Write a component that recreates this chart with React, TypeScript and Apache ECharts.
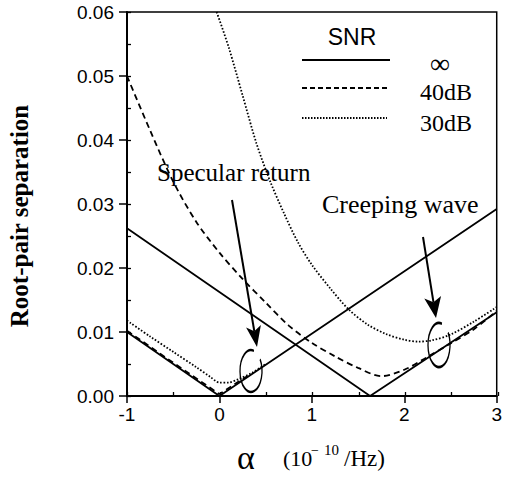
import React, { useEffect, useRef } from "react";
import * as echarts from "echarts";

// ---- data (alpha in 1e-10/Hz, root-pair separation) ----
const xMin = -1;
const xMax = 3;
const yMin = 0;
const yMax = 0.06;

const specInfAlpha = [-1, 0, 3];
const specInfSep = [0.01, 0.0, 0.0292];

const creepInfAlpha = [-1, 1.63, 3];
const creepInfSep = [0.0262, 0.0, 0.0131];

const spec40Alpha = [-1, -0.5, 0, 0.3];
const spec40Sep = [0.0102, 0.0052, 0.0003, 0.0031];

const spec30Alpha = [-1, -0.75, -0.5, -0.25, -0.1, 0, 0.1, 0.2, 0.35, 0.5];
const spec30Sep = [0.0118, 0.0093, 0.0069, 0.0045, 0.003, 0.0021, 0.0021, 0.0026, 0.0036, 0.005];

const creep40Alpha = [-1, -0.75, -0.5, -0.25, 0, 0.25, 0.5, 0.75, 1.0, 1.25, 1.5, 1.75, 2.0, 2.25, 2.5, 2.75, 3.0];
const creep40Sep = [0.05, 0.0415, 0.0335, 0.0272, 0.0224, 0.0183, 0.0146, 0.011, 0.0083, 0.0062, 0.0044, 0.0031, 0.0041, 0.0061, 0.0082, 0.0104, 0.0133];

const creep30Alpha = [-0.03, 0.1, 0.25, 0.4, 0.55, 0.7, 0.85, 1.0, 1.2, 1.4, 1.6, 1.8, 2.0, 2.15, 2.3, 2.5, 2.75, 3.0];
const creep30Sep = [0.06, 0.0545, 0.047, 0.0395, 0.0335, 0.0285, 0.024, 0.0205, 0.0168, 0.0135, 0.0112, 0.0097, 0.0088, 0.0085, 0.0087, 0.0096, 0.0116, 0.0139];

const snrNames = ["∞", "40dB", "30dB"];
const yAxisTitle = "Root-pair separation";
const annotationSpecular = "Specular return";
const annotationCreeping = "Creeping wave";

const SERIF = "'Liberation Serif', 'Times New Roman', serif";
const SANS = "'Liberation Sans', Arial, sans-serif";

function pairs(xs: number[], ys: number[]) {
  return xs.map((x, i) => [x, ys[i]]);
}

const solid = { color: "#000", width: 1.8, type: "solid" as const };
const dashed = { color: "#000", width: 1.8, type: [6, 4] };
const dotted = { color: "#000", width: 1.8, type: [1.6, 1.8] };

function lineSeries(name: string, xs: number[], ys: number[], style: any, smooth: number) {
  return {
    type: "line",
    name,
    xAxisIndex: 0,
    yAxisIndex: 0,
    data: pairs(xs, ys),
    showSymbol: false,
    symbol: "none",
    smooth,
    lineStyle: style,
    silent: true,
  };
}

function arrow(x1: number, y1: number, x2: number, y2: number, len: number, half: number) {
  const dx = x2 - x1;
  const dy = y2 - y1;
  const d = Math.sqrt(dx * dx + dy * dy);
  const ux = dx / d;
  const uy = dy / d;
  const bx = x2 - ux * len;
  const by = y2 - uy * len;
  const nx = bx + ux * 5;
  const ny = by + uy * 5;
  return [
    { type: "line", shape: { x1, y1, x2: nx, y2: ny }, style: { stroke: "#000", lineWidth: 2 } },
    {
      type: "polygon",
      shape: {
        points: [
          [x2, y2],
          [bx - uy * half, by + ux * half],
          [nx, ny],
          [bx + uy * half, by - ux * half],
        ],
      },
      style: { fill: "#000" },
    },
  ];
}

function loop(cx: number, cy: number, r: number, sy: number) {
  return {
    type: "arc",
    x: cx,
    y: cy,
    scaleY: sy,
    shape: { cx: 0, cy: 0, r, startAngle: -0.6, endAngle: 2 * Math.PI - 1.3, clockwise: true },
    style: { stroke: "#000", fill: "none", lineWidth: 1.3 },
  };
}

export default function App() {
  const ref = useRef<HTMLDivElement>(null);

  useEffect(() => {
    if (!ref.current) return;
    const chart = echarts.init(ref.current, undefined, { renderer: "svg" });
    const gridBox = { left: 127, right: 7, top: 12, bottom: 83 };
    const option: any = {
      animation: false,
      backgroundColor: "#fff",
      grid: [
        { ...gridBox, show: true, borderColor: "#000", borderWidth: 1.5, backgroundColor: "transparent" },
        { ...gridBox, show: false },
      ],
      xAxis: [
        {
          type: "value",
          gridIndex: 0,
          min: xMin,
          max: xMax,
          interval: 1,
          axisLine: { show: true, onZero: false, lineStyle: { color: "#000", width: 2 } },
          axisTick: { show: true, length: 7, lineStyle: { color: "#000", width: 1.5 } },
          axisLabel: { color: "#000", fontSize: 19, fontFamily: SANS, margin: 9 },
          splitLine: { show: false },
        },
        {
          type: "value",
          gridIndex: 1,
          min: xMin,
          max: xMax,
          interval: 0.5,
          position: "bottom",
          axisLine: { show: false, onZero: false },
          axisTick: { show: true, inside: true, length: 4, lineStyle: { color: "#000", width: 1.3 } },
          axisLabel: { show: false },
          splitLine: { show: false },
        },
      ],
      yAxis: [
        {
          type: "value",
          gridIndex: 0,
          min: yMin,
          max: yMax,
          interval: 0.01,
          axisLine: { show: true, onZero: false, lineStyle: { color: "#000", width: 2 } },
          axisTick: { show: true, length: 8, lineStyle: { color: "#000", width: 1.5 } },
          axisLabel: {
            color: "#000",
            fontSize: 19,
            fontFamily: SANS,
            margin: 13,
            formatter: (v: number) => v.toFixed(2),
          },
          splitLine: { show: false },
        },
        {
          type: "value",
          gridIndex: 1,
          min: yMin,
          max: yMax,
          interval: 0.005,
          position: "left",
          axisLine: { show: false, onZero: false },
          axisTick: { show: true, inside: true, length: 4, lineStyle: { color: "#000", width: 1.3 } },
          axisLabel: { show: false },
          splitLine: { show: false },
        },
      ],
      series: [
        lineSeries(snrNames[0], specInfAlpha, specInfSep, solid, 0),
        lineSeries(snrNames[0], creepInfAlpha, creepInfSep, solid, 0),
        lineSeries(snrNames[1], spec40Alpha, spec40Sep, dashed, 0),
        lineSeries(snrNames[1], creep40Alpha, creep40Sep, dashed, 0.3),
        lineSeries(snrNames[2], spec30Alpha, spec30Sep, dotted, 0.3),
        lineSeries(snrNames[2], creep30Alpha, creep30Sep, dotted, 0.3),
      ],
      graphic: [
        // y-axis title
        {
          type: "text",
          x: 19,
          y: 216,
          rotation: Math.PI / 2,
          style: {
            text: yAxisTitle,
            font: `bold 25px ${SERIF}`,
            fill: "#000",
            align: "center",
            verticalAlign: "middle",
          },
        },
        // x-axis title
        { type: "text", x: 237, y: 457, style: { text: "α", font: `34px ${SERIF}`, fill: "#000", align: "left", verticalAlign: "middle" } },
        { type: "text", x: 283, y: 458, style: { text: "(10", font: `22px ${SERIF}`, fill: "#000", align: "left", verticalAlign: "middle" } },
        { type: "text", x: 311, y: 450, style: { text: "−", font: `14px ${SERIF}`, fill: "#000", align: "left", verticalAlign: "middle" } },
        { type: "text", x: 324, y: 450, style: { text: "10", font: `15px ${SERIF}`, fill: "#000", align: "left", verticalAlign: "middle" } },
        { type: "text", x: 344, y: 458, style: { text: "/Hz)", font: `23px ${SERIF}`, fill: "#000", align: "left", verticalAlign: "middle" } },
        // legend
        { type: "text", x: 352, y: 37, style: { text: "SNR", font: `23px ${SANS}`, fill: "#000", align: "center", verticalAlign: "middle" } },
        { type: "line", shape: { x1: 302, y1: 60, x2: 390, y2: 60 }, style: { stroke: "#000", lineWidth: 2 } },
        { type: "line", shape: { x1: 302, y1: 88, x2: 390, y2: 88 }, style: { stroke: "#000", lineWidth: 2, lineDash: [5, 3] } },
        { type: "line", shape: { x1: 302, y1: 118, x2: 387, y2: 118 }, style: { stroke: "#000", lineWidth: 1.8, lineDash: [1.5, 1.5] } },
        { type: "text", x: 440, y: 63, style: { text: snrNames[0], font: `28px ${SERIF}`, fill: "#000", align: "center", verticalAlign: "middle" } },
        { type: "text", x: 420, y: 92, style: { text: snrNames[1], font: `24px ${SERIF}`, fill: "#000", align: "left", verticalAlign: "middle" } },
        { type: "text", x: 420, y: 123, style: { text: snrNames[2], font: `24px ${SERIF}`, fill: "#000", align: "left", verticalAlign: "middle" } },
        // annotations
        { type: "text", x: 157, y: 172, style: { text: annotationSpecular, font: `25px ${SERIF}`, fill: "#000", align: "left", verticalAlign: "middle" } },
        { type: "text", x: 322, y: 204, style: { text: annotationCreeping, font: `26px ${SERIF}`, fill: "#000", align: "left", verticalAlign: "middle" } },
        ...arrow(232, 200, 257, 347, 21, 7.5),
        ...arrow(423, 237, 436, 318, 21, 8.5),
        loop(251, 371, 11, 1.9),
        loop(439, 345, 11, 2.0),
      ],
    };
    chart.setOption(option);
    return () => chart.dispose();
  }, []);

  return (
    <div
      ref={ref}
      style={{ position: "fixed", left: 0, top: 0, width: 505, height: 479, background: "#fff" }}
    />
  );
}
